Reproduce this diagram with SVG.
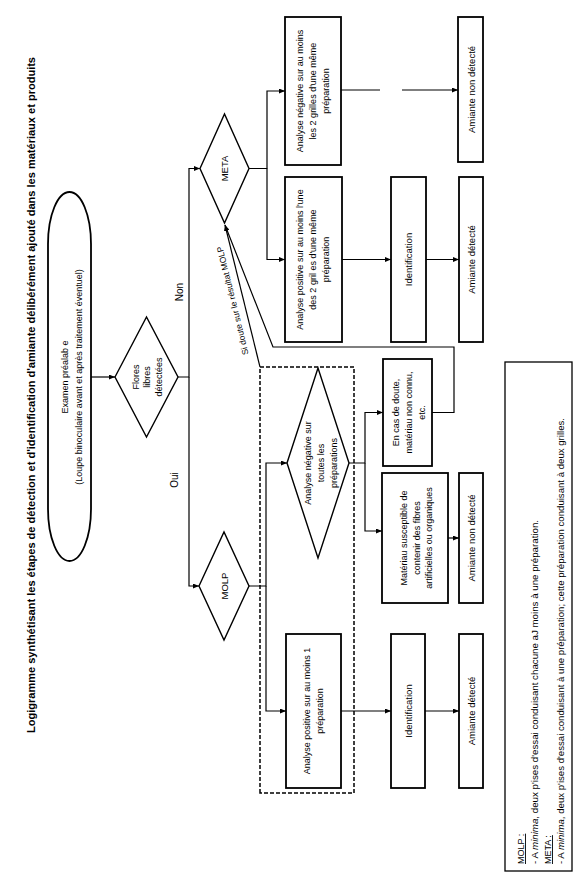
<svg xmlns="http://www.w3.org/2000/svg" width="584" height="896" viewBox="0 0 584 896">
<defs>
<marker id="arr" viewBox="0 0 6 5" refX="6" refY="2.5" markerWidth="6" markerHeight="5" markerUnits="userSpaceOnUse" orient="auto"><path d="M0,0 L6,2.5 L0,5 z" fill="#000"/></marker>
<style>
text{font-family:"Liberation Sans",Arial,sans-serif;fill:#000}
.t{font-size:9px;text-anchor:middle}
.s{font-size:9.5px}
.box{fill:#fff;stroke:#000;stroke-width:1.8}
.dia{fill:#fff;stroke:#000;stroke-width:1.4}
.ln{fill:none;stroke:#000;stroke-width:1.2}
.ar{marker-end:url(#arr)}
.dash{fill:none;stroke:#000;stroke-width:1.5;stroke-dasharray:4 2}
</style>
</defs>
<rect width="584" height="896" fill="#fff"/>
<g transform="translate(0,896) rotate(-90)">
  <text id="title" x="163" y="35" font-size="10" font-weight="bold" textLength="676" lengthAdjust="spacingAndGlyphs">Logigramme synthétisant les étapes de détection et d'identification d'amiante délibérément ajouté dans les matériaux et produits</text>

  <g id="molp-zone"><rect class="dash" x="103" y="260" width="426" height="94"/></g>

  <g id="connectors">
    <path class="ln ar" d="M519,91 V115"/>
    <path class="ln ar" d="M519,178 V189 H727.5 V200"/>
    <path class="ln ar" d="M519,189 H310 V199"/>
    <path class="ln ar" d="M727.5,249 V267 H805 V285"/>
    <path class="ln ar" d="M727.5,267 H636.5 V285"/>
    <path class="ln" d="M806,341 V380"/>
    <path class="ln ar" d="M806,402 V458"/>
    <path class="ln ar" d="M636.5,342 V391"/>
    <path class="ln ar" d="M636.5,426 V459"/>
    <path class="ln ar" d="M310,249 V266 H433 V287"/>
    <path class="ln ar" d="M310,266 H185 V286"/>
    <path class="ln ar" d="M185,341 V391"/>
    <path class="ln ar" d="M185,425 V459"/>
    <path class="ln ar" d="M433,349 V365 H483.5 V383"/>
    <path class="ln ar" d="M433,365 H365 V382"/>
    <path class="ln ar" d="M358,448 V459"/>
    <path class="ln ar" d="M483.5,432 V454 H549 V273 L671,225"/>
    <path class="ln ar" d="M529,260 L671,225" stroke-width="1.5"/>
    <text x="596" y="235.5" font-size="8.5" text-anchor="middle" transform="rotate(-13.65 596 235.5)">Si doute sur le résultat MOLP</text>
    <text x="604" y="183" font-size="10" text-anchor="middle">Non</text>
    <text x="416" y="178" font-size="10" text-anchor="middle">Oui</text>
  </g>

  <g id="examen">
    <rect class="box" x="335" y="48" width="369" height="43" rx="52" ry="21.5" stroke-width="1.5"/>
    <text class="t" x="519" y="68">Examen préalab e</text>
    <text class="t" x="519" y="82">(Loupe binoculaire avant et après traitement éventuel)</text>
  </g>

  <g id="flores">
    <polygon class="dia" points="519,115 579,146.5 519,178 459,146.5"/>
    <text class="t" x="519" y="138.5">Flores</text>
    <text class="t" x="519" y="150">libres</text>
    <text class="t" x="519" y="161.5">détectées</text>
  </g>

  <g id="meta">
    <polygon class="dia" points="727.5,200 782,224.5 727.5,249 673,224.5"/>
    <text class="t s" x="727.5" y="228">META</text>
  </g>

  <g id="molp">
    <polygon class="dia" points="310,199 364,224 310,249 256,224"/>
    <text class="t s" x="310" y="228">MOLP</text>
  </g>

  <g id="meta-neg">
    <rect class="box" x="731" y="285" width="148" height="56"/>
    <text class="t" x="805" y="303">Analyse négative sur au moins</text>
    <text class="t" x="805" y="316">les 2 grilles d'une même</text>
    <text class="t" x="805" y="329">préparation</text>
  </g>

  <g id="meta-pos">
    <rect class="box" x="554" y="285" width="165" height="57"/>
    <text class="t" x="636.5" y="303">Analyse positive sur au moins l'une</text>
    <text class="t" x="636.5" y="316">des 2 gril es d'une même</text>
    <text class="t" x="636.5" y="329">préparation</text>
  </g>

  <g id="meta-ident">
    <rect class="box" x="554" y="391" width="165" height="35"/>
    <text class="t s" x="636.5" y="412">Identification</text>
  </g>

  <g id="meta-det">
    <rect class="box" x="554" y="459" width="165" height="24"/>
    <text class="t s" x="636.5" y="474.5">Amiante détecté</text>
  </g>

  <g id="meta-nondet">
    <rect class="box" x="734" y="458" width="145" height="25"/>
    <text class="t s" x="806.5" y="474.5">Amiante non détecté</text>
  </g>

  <g id="molp-pos">
    <rect class="box" x="108" y="286" width="154" height="55"/>
    <text class="t" x="185" y="310">Analyse positive sur au moins 1</text>
    <text class="t" x="185" y="323">préparation</text>
  </g>

  <g id="molp-ident">
    <rect class="box" x="108" y="391" width="154" height="34"/>
    <text class="t s" x="185" y="412">Identification</text>
  </g>

  <g id="molp-det">
    <rect class="box" x="108" y="459" width="154" height="24"/>
    <text class="t s" x="185" y="474.5">Amiante détecté</text>
  </g>

  <g id="molp-neg">
    <polygon class="dia" points="433,287 528,318 433,349 338,318"/>
    <text class="t" x="433" y="311">Analyse négative sur</text>
    <text class="t" x="433" y="324">toutes les</text>
    <text class="t" x="433" y="337">préparations</text>
  </g>

  <g id="materiau">
    <rect class="box" x="293" y="382" width="130" height="66"/>
    <text class="t" x="358" y="407">Matériau susceptible de</text>
    <text class="t" x="358" y="419.5">contenir des fibres</text>
    <text class="t" x="358" y="432">artificielles ou organiques</text>
  </g>

  <g id="molp-nondet">
    <rect class="box" x="293" y="459" width="130" height="24"/>
    <text class="t s" x="358" y="474.5">Amiante non détecté</text>
  </g>

  <g id="doute">
    <rect class="box" x="430" y="383" width="107" height="49"/>
    <text class="t" x="483.5" y="399">En cas de doute,</text>
    <text class="t" x="483.5" y="412">matériau non connu,</text>
    <text class="t" x="483.5" y="425">etc.</text>
  </g>

  <g id="notes">
    <rect x="25" y="505" width="509" height="67" fill="#fff" stroke="#000" stroke-width="1.3"/>
    <text x="32" y="524" font-size="9" text-decoration="underline">MOLP :</text>
    <text x="32" y="538" font-size="9" textLength="344" lengthAdjust="spacingAndGlyphs">- A <tspan font-style="italic">minima</tspan>, deux p'ises d'essai conduisant chacune aJ moins à une préparation.</text>
    <text x="32" y="551" font-size="9" text-decoration="underline">META :</text>
    <text x="32" y="564" font-size="9" textLength="446" lengthAdjust="spacingAndGlyphs">- A <tspan font-style="italic">minima</tspan>, deux p'ises d'essai conduisant à une préparation; cette préparation conduisant à deux grilles.</text>
  </g>
</g>
</svg>
